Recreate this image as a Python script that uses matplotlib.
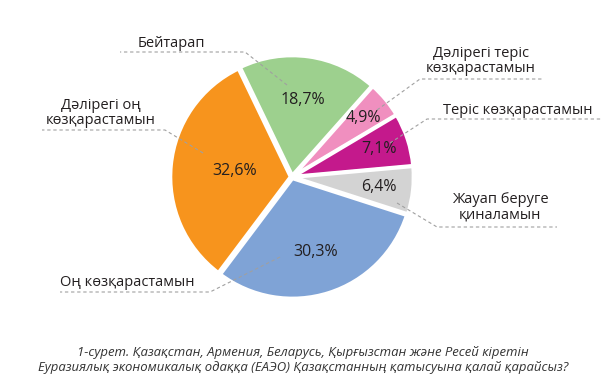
"""Pie chart: attitudes to Kazakhstan's participation in the EAEU"""
import numpy as np
import matplotlib
matplotlib.use('Agg')
import matplotlib.pyplot as plt

plt.rcParams['font.family'] = ['Open Sans', 'DejaVu Sans']

labels = ['Бейтарап', 'Дәлірегі теріс\nкөзқарастамын', 'Теріс көзқарастамын',
          'Жауап беруге\nқиналамын', 'Оң көзқарастамын', 'Дәлірегі оң\nкөзқарастамын']
shares = [18.7, 4.9, 7.1, 6.4, 30.3, 32.6]
colors = ['#9dd08e', '#f08fbf', '#c4198c', '#d3d3d3', '#7fa3d6', '#f7941d']

caption = ('1-сурет. Қазақстан, Армения, Беларусь, Қырғызстан және Ресей кіретін\n'
           'Еуразиялық экономикалық одаққа (ЕАЭО) Қазақстанның қатысуына қалай қарайсыз?')

W, H = 607, 392
fig = plt.figure(figsize=(W / 100, H / 100), dpi=100)
ax = fig.add_axes([0, 0, 1, 1])


def px(x, y):
    # pixel position (y downward) -> data coords
    return x, H - y


cx, cy = px(292, 177)
R = 120
pct_dist = [0.65, 0.77, 0.76, 0.73, 0.66, 0.48]

wedges, _, autotexts = ax.pie(shares, colors=colors, center=(cx, cy), radius=R,
                              startangle=115.7, counterclock=False,
                              explode=[1.5] * len(shares),
                              autopct=lambda p: f'{p:.1f}%'.replace('.', ','),
                              wedgeprops=dict(edgecolor='white', linewidth=2.6),
                              textprops=dict(fontsize=11.5, color='#231f20'),
                              frame=True)
ax.set_xlim(0, W)
ax.set_ylim(0, H)
ax.set_aspect('auto')
ax.axis('off')

for w, t, d in zip(wedges, autotexts, pct_dist):
    mid = np.deg2rad((w.theta1 + w.theta2) / 2)
    t.set_position((cx + d * R * np.cos(mid), cy + d * R * np.sin(mid)))

# leader lines: (inner point, elbow, end) and label anchor, in pixels
leaders = [
    ((287, 85), (245, 52), (120, 52), (171, 43)),
    ((377, 110), (420, 79), (543, 79), (481, 61)),
    ((390, 143), (427, 119), (602, 119), (518, 110)),
    ((397, 203), (437, 227), (557, 227), (500, 207)),
    ((280, 257), (210, 292), (60, 292), (127, 283)),
    ((203, 153), (165, 130), (42, 130), (101, 113)),
]
for (a, b, c, lab), text in zip(leaders, labels):
    xs, ys = zip(*[px(*p) for p in (a, b, c)])
    ax.plot(xs, ys, color='#a0a0a0', lw=0.8, ls=(0, (3, 2.5)), zorder=3)
    ax.text(*px(*lab), text, ha='center', va='center', fontsize=10.5,
            color='#231f20', linespacing=1.05)

ax.text(*px(303, 360), caption, ha='center', va='center', fontsize=9.45,
        style='italic', color='#333333', linespacing=1.15)

plt.savefig('out.png', dpi=100)
